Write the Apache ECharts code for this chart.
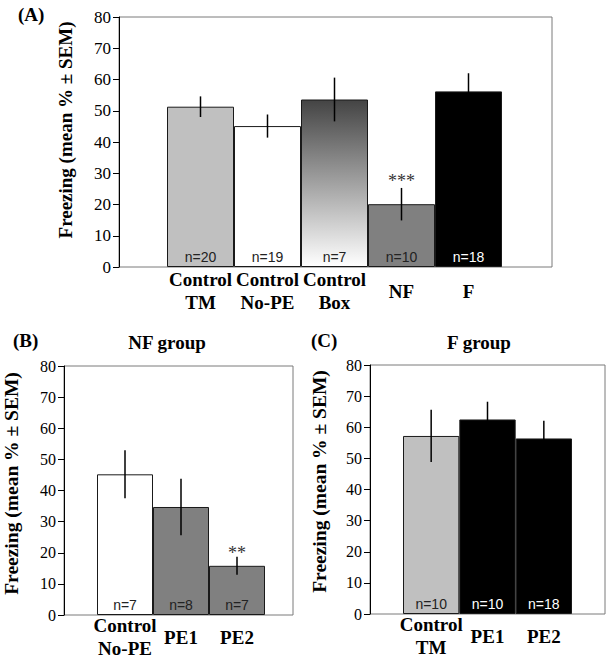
<!DOCTYPE html>
<html><head><meta charset="utf-8">
<script src="https://cdn.jsdelivr.net/npm/echarts@6/dist/echarts.min.js"></script>
<style>html,body{margin:0;padding:0;background:#fff}#c{width:610px;height:663px}</style>
</head><body><div id="c"></div>
<script>
// ---- Data ----
const yMin = 0, yMax = 80, yStep = 10;

const catsA = ['Control\nTM', 'Control\nNo-PE', 'Control\nBox', 'NF', 'F'];
const meanA = [51.3, 45.1, 53.6, 20.1, 56.2];
const semA  = [3.3, 3.7, 7.0, 5.2, 5.8];
const nA    = [20, 19, 7, 10, 18];
const sigA  = ['', '', '', '***', ''];

const catsB = ['Control\nNo-PE', 'PE1', 'PE2'];
const meanB = [45.2, 34.7, 15.8];
const semB  = [7.7, 9.1, 2.9];
const nB    = [7, 8, 7];
const sigB  = ['', '', '**'];

const catsC = ['Control\nTM', 'PE1', 'PE2'];
const meanC = [57.2, 62.5, 56.4];
const semC  = [8.4, 5.7, 5.7];
const nC    = [10, 10, 18];
const sigC  = ['', '', ''];

// ---- Styles ----
const boxGrad = new echarts.graphic.LinearGradient(0, 0, 0, 1, [
  {offset: 0, color: '#444444'}, {offset: 1, color: '#ffffff'}
]);
const fillA = ['#c0c0c0', '#ffffff', boxGrad, '#808080', '#000000'];
const fillB = ['#ffffff', '#808080', '#808080'];
const fillC = ['#c0c0c0', '#000000', '#000000'];
const labelColA = ['#222', '#222', '#222', '#222', '#fff'];
const labelColB = ['#222', '#222', '#222'];
const labelColC = ['#222', '#fff', '#fff'];

const SERIF = '"Liberation Serif", "Times New Roman", serif';
const SANS = '"Liberation Sans", Arial, sans-serif';

const grids = [], xAxes = [], yAxes = [], series = [];

function panel(frame, bars, cats, means, sems, ns, sigs, fills, labCols, o) {
  const gF = grids.length;
  grids.push(Object.assign({show: true, borderColor: '#7a7a7a', borderWidth: 1, backgroundColor: 'transparent'}, frame));
  const gB = grids.length;
  grids.push(Object.assign({}, bars, {top: frame.top, height: frame.height}));

  const xF = xAxes.length;
  xAxes.push({gridIndex: gF, type: 'value', min: 0, max: 1, show: false});
  const yF = yAxes.length;
  yAxes.push({
    gridIndex: gF, type: 'value', min: yMin, max: yMax, interval: yStep,
    name: 'Freezing (mean % \u00b1 SEM)', nameLocation: 'middle', nameGap: o.nameGap,
    nameTextStyle: {fontFamily: SERIF, fontWeight: 'bold', fontSize: o.nameSize, color: '#000',
      padding: [0, 0, 0, o.nameShift]},
    axisLine: {show: true, lineStyle: {color: '#000', width: 1}},
    axisTick: {show: true, length: 6, lineStyle: {color: '#000'}},
    axisLabel: {fontFamily: SERIF, fontSize: o.tickSize, color: '#000', margin: 8},
    splitLine: {show: false}
  });
  const xB = xAxes.length;
  xAxes.push({
    gridIndex: gB, type: 'category', data: cats,
    axisLine: {show: false}, axisTick: {show: false},
    axisLabel: {interval: 0, fontFamily: SERIF, fontWeight: 'bold', fontSize: o.catSize,
      lineHeight: o.catLH, color: '#000', verticalAlign: 'middle', margin: o.catMargin}
  });
  const yB = yAxes.length;
  yAxes.push({gridIndex: gB, type: 'value', min: yMin, max: yMax, interval: yStep, show: false});

  series.push({
    type: 'bar', xAxisIndex: xB, yAxisIndex: yB, barCategoryGap: 0, barWidth: '100%',
    data: means.map((v, i) => ({
      value: v,
      itemStyle: {color: fills[i]},
      label: {color: labCols[i]}
    })),
    itemStyle: {borderColor: '#1a1a1a', borderWidth: 1},
    label: {show: true, position: 'insideBottom', distance: 3, fontFamily: SANS, fontSize: 14,
      formatter: p => 'n=' + ns[p.dataIndex]},
    silent: true, animation: false, z: 2
  });
  series.push({
    type: 'custom', xAxisIndex: xB, yAxisIndex: yB, z: 5, silent: true, animation: false,
    data: means.map((v, i) => [i, v, sems[i]]),
    renderItem: function (params, api) {
      const i = api.value(0), m = api.value(1), s = api.value(2);
      const top = api.coord([i, m + s]);
      const bot = api.coord([i, m - s]);
      const children = [{
        type: 'line', shape: {x1: top[0], y1: top[1], x2: bot[0], y2: bot[1]},
        style: {stroke: '#000', lineWidth: 1.5}
      }];
      const sg = sigs[params.dataIndex];
      if (sg) {
        children.push({
          type: 'text', x: top[0], y: top[1] - o.sigGap,
          style: {text: sg, fontFamily: SERIF, fontSize: 18, fill: '#333',
            align: 'center', verticalAlign: 'middle'}
        });
      }
      return {type: 'group', children: children};
    }
  });
}

panel({left: 119, top: 17, width: 433, height: 250}, {left: 167, width: 335},
  catsA, meanA, semA, nA, sigA, fillA, labelColA,
  {nameGap: 44, nameSize: 19, nameShift: 24, tickSize: 17, catSize: 19, catLH: 23, catMargin: 24, sigGap: 7});
panel({left: 60, top: 366, width: 233, height: 249}, {left: 97, width: 168},
  catsB, meanB, semB, nB, sigB, fillB, labelColB,
  {nameGap: 43, nameSize: 19.5, nameShift: 14, tickSize: 16, catSize: 19, catLH: 23, catMargin: 22, sigGap: 4});
panel({left: 370, top: 365, width: 235, height: 249}, {left: 403, width: 169},
  catsC, meanC, semC, nC, sigC, fillC, labelColC,
  {nameGap: 41, nameSize: 19.5, nameShift: 16, tickSize: 16, catSize: 19, catLH: 23, catMargin: 22, sigGap: 4});

const tStyle = {fontFamily: SERIF, fontWeight: 'bold', fontSize: 19, color: '#000'};
const titles = [
  {text: '(A)', left: 18, top: 5, padding: 0, textStyle: tStyle},
  {text: '(B)', left: 13, top: 331, padding: 0, textStyle: tStyle},
  {text: 'NF group', left: 167, top: 333, textAlign: 'center', padding: 0, textStyle: tStyle},
  {text: '(C)', left: 311, top: 331, padding: 0, textStyle: tStyle},
  {text: 'F group', left: 479, top: 333, textAlign: 'center', padding: 0, textStyle: tStyle}
];

const chart = echarts.init(document.getElementById('c'), null, {renderer: 'svg'});
chart.setOption({
  animation: false,
  backgroundColor: '#ffffff',
  title: titles,
  grid: grids, xAxis: xAxes, yAxis: yAxes, series: series
});
</script></body></html>
